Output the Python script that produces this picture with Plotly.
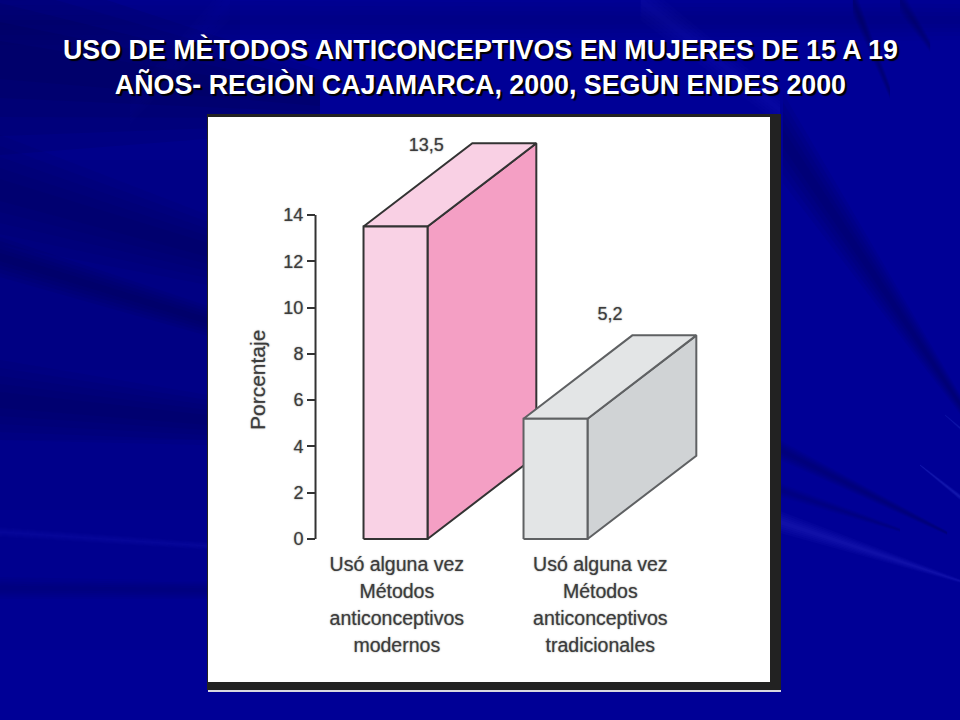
# uso_metodos_anticonceptivos.py

import plotly.graph_objects as go

# Chart data
categories = ["modernos", "tradicionales"]
values = [13.5, 5.2]
value_labels = ["13,5", "5,2"]
label_lines = [
    ["Usó alguna vez", "Métodos", "anticonceptivos", "modernos"],
    ["Usó alguna vez", "Métodos", "anticonceptivos", "tradicionales"],
]
y_ticks = [0, 2, 4, 6, 8, 10, 12, 14]
y_title = "Porcentaje"
title_text = (
    "USO DE MÈTODOS ANTICONCEPTIVOS EN MUJERES DE 15 A 19<br>"
    "AÑOS- REGIÒN CAJAMARCA, 2000, SEGÙN ENDES 2000"
)

# Bar geometry in axis units (one x unit is a bar width)
bar_pos = [0, 2.5]
half_w = 0.5
depth_x = 1.7
depth_y = 3.6

front_colors = ["#f9d2e5", "#e3e5e6"]
side_colors = ["#f49fc4", "#d0d3d5"]
top_colors = ["#f9d0e4", "#e3e5e6"]
edge_colors = ["#333333", "#5f6163"]
text_color = "#3c3c3c"
blur = "0 0 1.5px #777777"

fig = go.Figure()


def add_face(xs, ys, fill, edge):
    fig.add_trace(
        go.Scatter(
            x=xs + xs[:1],
            y=ys + ys[:1],
            mode="lines",
            fill="toself",
            fillcolor=fill,
            line=dict(color=edge, width=2),
            hoverinfo="skip",
            showlegend=False,
        )
    )


# Draw the two boxes, back one first
for i, value in enumerate(values):
    left = bar_pos[i] - half_w
    right = bar_pos[i] + half_w
    add_face(
        [right, right + depth_x, right + depth_x, right],
        [0, depth_y, value + depth_y, value],
        side_colors[i],
        edge_colors[i],
    )
    add_face(
        [left, left + depth_x, right + depth_x, right],
        [value, value + depth_y, value + depth_y, value],
        top_colors[i],
        edge_colors[i],
    )
    add_face(
        [left, right, right, left],
        [0, 0, value, value],
        front_colors[i],
        edge_colors[i],
    )

# Axis line stops at the last tick
fig.add_trace(
    go.Scatter(
        x=[-1.25, -1.25],
        y=[y_ticks[0], y_ticks[-1]],
        mode="lines",
        line=dict(color="#333333", width=2),
        hoverinfo="skip",
        showlegend=False,
    )
)

# Value labels above the boxes
fig.add_trace(
    go.Scatter(
        x=[bar_pos[0] + 0.48, bar_pos[1] + 0.85],
        y=[values[0] + 3.44, values[1] + 4.44],
        mode="text",
        text=value_labels,
        textposition="middle center",
        textfont=dict(family="Liberation Sans", size=18, color=text_color, shadow=blur),
        hoverinfo="skip",
        showlegend=False,
    )
)

# Category labels, one trace per line so the spacing matches the slide
label_x = [bar_pos[0] + 0.02, bar_pos[1] + 0.7]
for i, lines in enumerate(label_lines):
    fig.add_trace(
        go.Scatter(
            x=[label_x[i]] * len(lines),
            y=[-1.17 - 1.167 * n for n in range(len(lines))],
            mode="text",
            text=lines,
            textposition="middle center",
            textfont=dict(family="Liberation Sans", size=19.5, color=text_color, shadow=blur),
            hoverinfo="skip",
            showlegend=False,
        )
    )


def px_path(points):
    # Window pixels to paper coordinates
    parts = [f"{x / 960:.4f} {1 - y / 720:.4f}" for x, y in points]
    return "M " + " L ".join(parts) + " Z"


def soft_band(x0, y0, x1, y1, w0, w1, rgb, alpha):
    # A tapering streak built from nested polygons so the edges fade out
    out = []
    for scale in (1.0, 0.8, 0.6, 0.4, 0.2):
        a = scale * w0 / 2
        b = scale * w1 / 2
        out.append(
            dict(
                type="path",
                path=px_path([(x0, y0 - a), (x1, y1 - b), (x1, y1 + b), (x0, y0 + a)]),
                xref="paper",
                yref="paper",
                fillcolor=f"rgba({rgb},{alpha})",
                line=dict(width=0),
                layer="below",
            )
        )
    return out


# Slide background streaks
dark = "0,0,70"
light = "50,60,210"
shapes = []
shapes += soft_band(0, 300, 240, 300, 700, 700, dark, 0.05)
shapes += soft_band(0, 60, 320, 100, 190, 60, dark, 0.12)
shapes += soft_band(0, 190, 208, 250, 110, 70, dark, 0.07)
shapes += soft_band(0, 257, 208, 321, 40, 30, dark, 0.08)
shapes += soft_band(0, 400, 208, 420, 80, 50, dark, 0.07)
shapes += soft_band(0, 588, 208, 590, 22, 18, dark, 0.05)
shapes += soft_band(0, 532, 208, 546, 10, 8, light, 0.03)
shapes += soft_band(0, 20, 960, 20, 50, 40, dark, 0.04)
shapes += soft_band(783, 138, 960, 404, 90, 20, dark, 0.08)
shapes += soft_band(780, 450, 947, 533, 20, 4, dark, 0.07)
shapes += soft_band(780, 490, 900, 530, 14, 4, dark, 0.05)
shapes += soft_band(853, 0, 890, 92, 30, 14, dark, 0.08)
shapes += soft_band(900, 0, 930, 46, 26, 12, dark, 0.07)
shapes += soft_band(640, 0, 780, 110, 40, 30, light, 0.03)
shapes += soft_band(230, 0, 130, 110, 40, 30, light, 0.02)
shapes += soft_band(780, 522, 960, 581, 22, 4, light, 0.07)
shapes += soft_band(920, 465, 960, 497, 2, 6, light, 0.1)
shapes += soft_band(945, 415, 960, 428, 2, 4, light, 0.08)

# White picture panel with its dark border
shapes += [
    dict(type="rect", xref="paper", yref="paper", x0=208 / 960, x1=781 / 960,
         y0=1 - 692 / 720, y1=1 - 690 / 720,
         fillcolor="#d8d8e0", line=dict(width=0), layer="below"),
    dict(type="rect", xref="paper", yref="paper", x0=207 / 960, x1=781 / 960,
         y0=1 - 690 / 720, y1=1 - 114 / 720,
         fillcolor="#222222", line=dict(width=0), layer="below"),
    dict(type="rect", xref="paper", yref="paper", x0=208 / 960, x1=770 / 960,
         y0=1 - 682 / 720, y1=1 - 117 / 720,
         fillcolor="#ffffff", line=dict(width=0), layer="below"),
]

fig.update_layout(
    width=960,
    height=720,
    margin=dict(l=0, r=0, t=0, b=0),
    paper_bgcolor="#000096",
    plot_bgcolor="rgba(0,0,0,0)",
    shapes=shapes,
    showlegend=False,
    annotations=[
        dict(
            text=title_text,
            xref="paper",
            yref="paper",
            x=0.5,
            y=1 - 67 / 720,
            xanchor="center",
            yanchor="middle",
            showarrow=False,
            align="center",
            font=dict(
                family="Liberation Sans",
                size=26.8,
                color="#ffffff",
                weight="bold",
                shadow="2px 2px 1px #000000",
            ),
        ),
        dict(
            text=y_title,
            xref="paper",
            yref="paper",
            x=257 / 960,
            y=1 - 380 / 720,
            xanchor="center",
            yanchor="middle",
            showarrow=False,
            textangle=-90,
            font=dict(family="Liberation Sans", size=21, color=text_color, shadow=blur),
        ),
    ],
)

fig.update_xaxes(range=[-6.18, 8.82], visible=False, fixedrange=True)
fig.update_yaxes(
    range=[-7.82, 23.29],
    tickvals=y_ticks,
    ticks="outside",
    ticklen=8,
    tickwidth=2,
    tickcolor="#333333",
    tickfont=dict(family="Liberation Sans", size=18, color=text_color, shadow=blur),
    showgrid=False,
    zeroline=False,
    showline=False,
    anchor="free",
    position=315 / 960,
    fixedrange=True,
)

# Drop the default page margin so the figure fills the window
fig.write_html(
    "out.html",
    config={"displayModeBar": False},
    post_script="document.body.style.margin='0';document.body.style.overflow='hidden';",
)
